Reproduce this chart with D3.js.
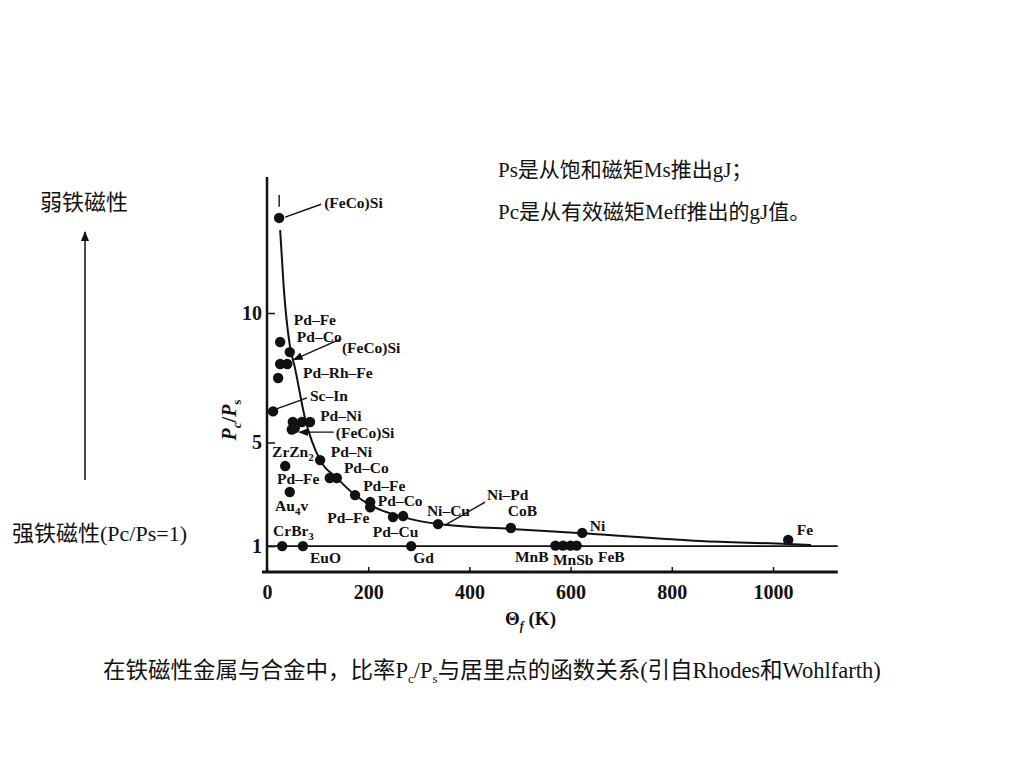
<!DOCTYPE html>
<html>
<head>
<meta charset="utf-8">
<script src="https://cdn.jsdelivr.net/npm/d3@7"></script>
<style>
  body { margin: 0; background: #fff; }
  .scan { font-family: "Liberation Serif", "DejaVu Serif", serif; font-weight: bold; fill: #111; }
  .note { font-family: "Liberation Serif", "Noto Sans CJK SC", serif; fill: #111; }
</style>
</head>
<body>
<div id="chart"></div>
<script>
// curie temperature (K) and Pc/Ps ratio of each dot
var curieT = [24, 26, 45, 26, 40, 22, 12, 51, 69, 85, 49, 55, 36, 105, 124, 138, 45, 174,
              204, 204, 249, 269, 338, 30, 71, 285, 482, 623, 1030, 570, 585, 600, 612];
var ratio  = [13.67, 8.88, 8.49, 8.03, 8.03, 7.49, 6.2, 5.79, 5.79, 5.79, 5.5, 5.56, 4.09, 4.32, 3.63, 3.63, 3.09, 2.97,
              2.7, 2.5, 2.12, 2.16, 1.85, 1.0, 1.0, 1.0, 1.70, 1.51, 1.24, 1.02, 1.02, 1.02, 1.02];

// hand drawn trend curve of the figure
var curveT = [26, 33, 45, 55, 75, 105, 138, 174, 207, 269, 338, 482, 623, 856, 1030, 1075];
var curveR = [13.2, 11.0, 8.76, 7.9, 5.95, 4.32, 3.63, 2.97, 2.55, 2.12, 1.85, 1.66, 1.5, 1.2, 1.08, 1.04];

// material names and where they sit (data coords)
var labelText = ["(FeCo)Si", "Pd–Fe", "Pd–Co", "(FeCo)Si", "Pd–Rh–Fe", "Sc–In", "Pd–Ni", "(FeCo)Si",
                 "ZrZn|2", "Pd–Ni", "Pd–Co", "Pd–Fe", "Pd–Fe", "Pd–Co", "Au|4v", "Pd–Fe", "Ni–Cu",
                 "CrBr|3", "Pd–Cu", "EuO", "Gd", "Ni–Pd", "CoB", "Ni", "Fe", "MnB", "MnSb", "FeB"];
var labelT = [113, 53, 59, 148, 71, 85, 105, 136, 10, 126, 152, 20, 190, 219, 16, 119, 316,
              12, 209, 85, 289, 435, 476, 638, 1047, 490, 565, 654];
var labelR = [14.05, 9.54, 8.88, 8.46, 7.49, 6.6, 5.83, 5.17, 4.44, 4.44, 3.82, 3.4, 3.14, 2.55, 2.36, 1.9, 2.16,
              1.39, 1.35, 0.35, 0.35, 2.78, 2.16, 1.58, 1.43, 0.39, 0.27, 0.39];

// leader lines [t1, r1, t2, r2]
var leaders = [[36, 13.7, 107, 14.2], [12, 6.25, 79, 6.72], [352, 1.81, 431, 2.7], [24, 14.56, 24, 14.1]];
var arrows  = [[146, 9.0, 53, 8.2], [132, 5.4, 64, 5.4]];

var xTicks = [0, 200, 400, 600, 800, 1000];
var yTicks = [1, 5, 10];

var svg = d3.select('#chart').append('svg')
    .attr('width', 1024)
    .attr('height', 768);

var x = d3.scaleLinear().domain([0, 1000]).range([267, 773]);
var y = d3.scaleLinear().domain([0, 10]).range([572, 313]);

svg.append('defs').append('marker')
    .attr('id', 'ah')
    .attr('viewBox', '0 0 10 10')
    .attr('refX', 9).attr('refY', 5)
    .attr('markerWidth', 7).attr('markerHeight', 7)
    .attr('orient', 'auto-start-reverse')
    .append('path').attr('d', 'M0,1 L10,5 L0,9 Z').attr('fill', '#111');

// axes
var xAxis = d3.axisBottom(x).tickValues(xTicks).tickFormat(d3.format('d')).tickSize(-5).tickPadding(10);
var gx = svg.append('g').attr('transform', 'translate(0,' + y(0) + ')').call(xAxis);
var yAxis = d3.axisLeft(y).tickValues(yTicks).tickSize(-8).tickPadding(5);
var gy = svg.append('g').attr('transform', 'translate(' + x(0) + ',0)').call(yAxis);
[gx, gy].forEach(function (g) {
    g.select('.domain').remove();
    g.selectAll('line').attr('stroke', '#111').attr('stroke-width', 1.5);
    g.selectAll('text').attr('class', 'scan').style('font-size', '20px').attr('fill', '#111');
});
gx.selectAll('text').attr('dy', '0.85em');

svg.append('line')
    .attr('x1', x(-10)).attr('x2', x(1128)).attr('y1', y(0)).attr('y2', y(0))
    .attr('stroke', '#111').attr('stroke-width', 3);
svg.append('line')
    .attr('x1', x(0)).attr('x2', x(0)).attr('y1', y(0)).attr('y2', y(15.25))
    .attr('stroke', '#111').attr('stroke-width', 2.5);

// Pc/Ps = 1 reference
svg.append('line')
    .attr('x1', x(0)).attr('x2', x(1128)).attr('y1', y(1)).attr('y2', y(1))
    .attr('stroke', '#111').attr('stroke-width', 1.6);

// trend curve
var line = d3.line()
    .x(function (d, i) { return x(curveT[i]); })
    .y(function (d, i) { return y(curveR[i]); })
    .curve(d3.curveMonotoneX);
svg.append('path').datum(curveT)
    .attr('d', line).attr('fill', 'none').attr('stroke', '#111').attr('stroke-width', 2);

// leaders
svg.selectAll('.leader').data(leaders).enter().append('line')
    .attr('x1', function (d) { return x(d[0]); }).attr('y1', function (d) { return y(d[1]); })
    .attr('x2', function (d) { return x(d[2]); }).attr('y2', function (d) { return y(d[3]); })
    .attr('stroke', '#111').attr('stroke-width', 1.4);
svg.selectAll('.arrow').data(arrows).enter().append('line')
    .attr('x1', function (d) { return x(d[0]); }).attr('y1', function (d) { return y(d[1]); })
    .attr('x2', function (d) { return x(d[2]); }).attr('y2', function (d) { return y(d[3]); })
    .attr('stroke', '#111').attr('stroke-width', 1.4).attr('marker-end', 'url(#ah)');

// dots
svg.selectAll('.dot').data(curieT).enter().append('circle')
    .attr('cx', function (d) { return x(d); })
    .attr('cy', function (d, i) { return y(ratio[i]); })
    .attr('r', 5.2)
    .attr('fill', '#111');

// material labels, "|" marks a subscript
svg.selectAll('.lbl').data(labelText).enter().append('text')
    .attr('class', 'scan')
    .attr('x', function (d, i) { return x(labelT[i]); })
    .attr('y', function (d, i) { return y(labelR[i]); })
    .style('font-size', '15.5px')
    .each(function (d) {
        var parts = d.split('|');
        var t = d3.select(this);
        t.append('tspan').text(parts[0]);
        if (parts[1]) {
            t.append('tspan').attr('dy', 4).style('font-size', '11px').text(parts[1][0]);
            if (parts[1].length > 1) t.append('tspan').attr('dy', -4).text(parts[1].slice(1));
        }
    });

// axis titles
var yt = svg.append('text').attr('class', 'scan')
    .attr('transform', 'translate(236,420) rotate(-90)')
    .attr('text-anchor', 'middle').style('font-size', '20px');
yt.append('tspan').style('font-style', 'italic').text('P');
yt.append('tspan').attr('dy', 5).style('font-size', '13px').style('font-style', 'italic').text('c');
yt.append('tspan').attr('dy', -5).text('/');
yt.append('tspan').style('font-style', 'italic').text('P');
yt.append('tspan').attr('dy', 5).style('font-size', '13px').text('s');

var xt = svg.append('text').attr('class', 'scan')
    .attr('x', 505).attr('y', 625).style('font-size', '19px');
xt.append('tspan').text('Θ');
xt.append('tspan').attr('dy', 5).style('font-size', '12px').style('font-style', 'italic').text('f');
xt.append('tspan').attr('dy', -5).text(' (K)');

// notes round the figure
svg.append('text').attr('class', 'note').attr('x', 498).attr('y', 177)
    .style('font-size', '21px').text('Ps是从饱和磁矩Ms推出gJ；');
svg.append('text').attr('class', 'note').attr('x', 498).attr('y', 219)
    .style('font-size', '21px').text('Pc是从有效磁矩Meff推出的gJ值。');
svg.append('text').attr('class', 'note').attr('x', 40).attr('y', 210)
    .style('font-size', '22px').text('弱铁磁性');
svg.append('text').attr('class', 'note').attr('x', 12).attr('y', 541)
    .style('font-size', '22px').text('强铁磁性(Pc/Ps=1)');
svg.append('line')
    .attr('x1', 85).attr('x2', 85).attr('y1', 480).attr('y2', 232)
    .attr('stroke', '#111').attr('stroke-width', 1.5).attr('marker-end', 'url(#ah)');

var cap = svg.append('text').attr('class', 'note').attr('x', 103).attr('y', 678)
    .style('font-size', '22.5px');
cap.append('tspan').text('在铁磁性金属与合金中，比率P');
cap.append('tspan').attr('dy', 5).style('font-size', '13px').text('c');
cap.append('tspan').attr('dy', -5).text('/P');
cap.append('tspan').attr('dy', 5).style('font-size', '13px').text('s');
cap.append('tspan').attr('dy', -5).text('与居里点的函数关系(引自Rhodes和Wohlfarth)');
</script>
</body>
</html>
